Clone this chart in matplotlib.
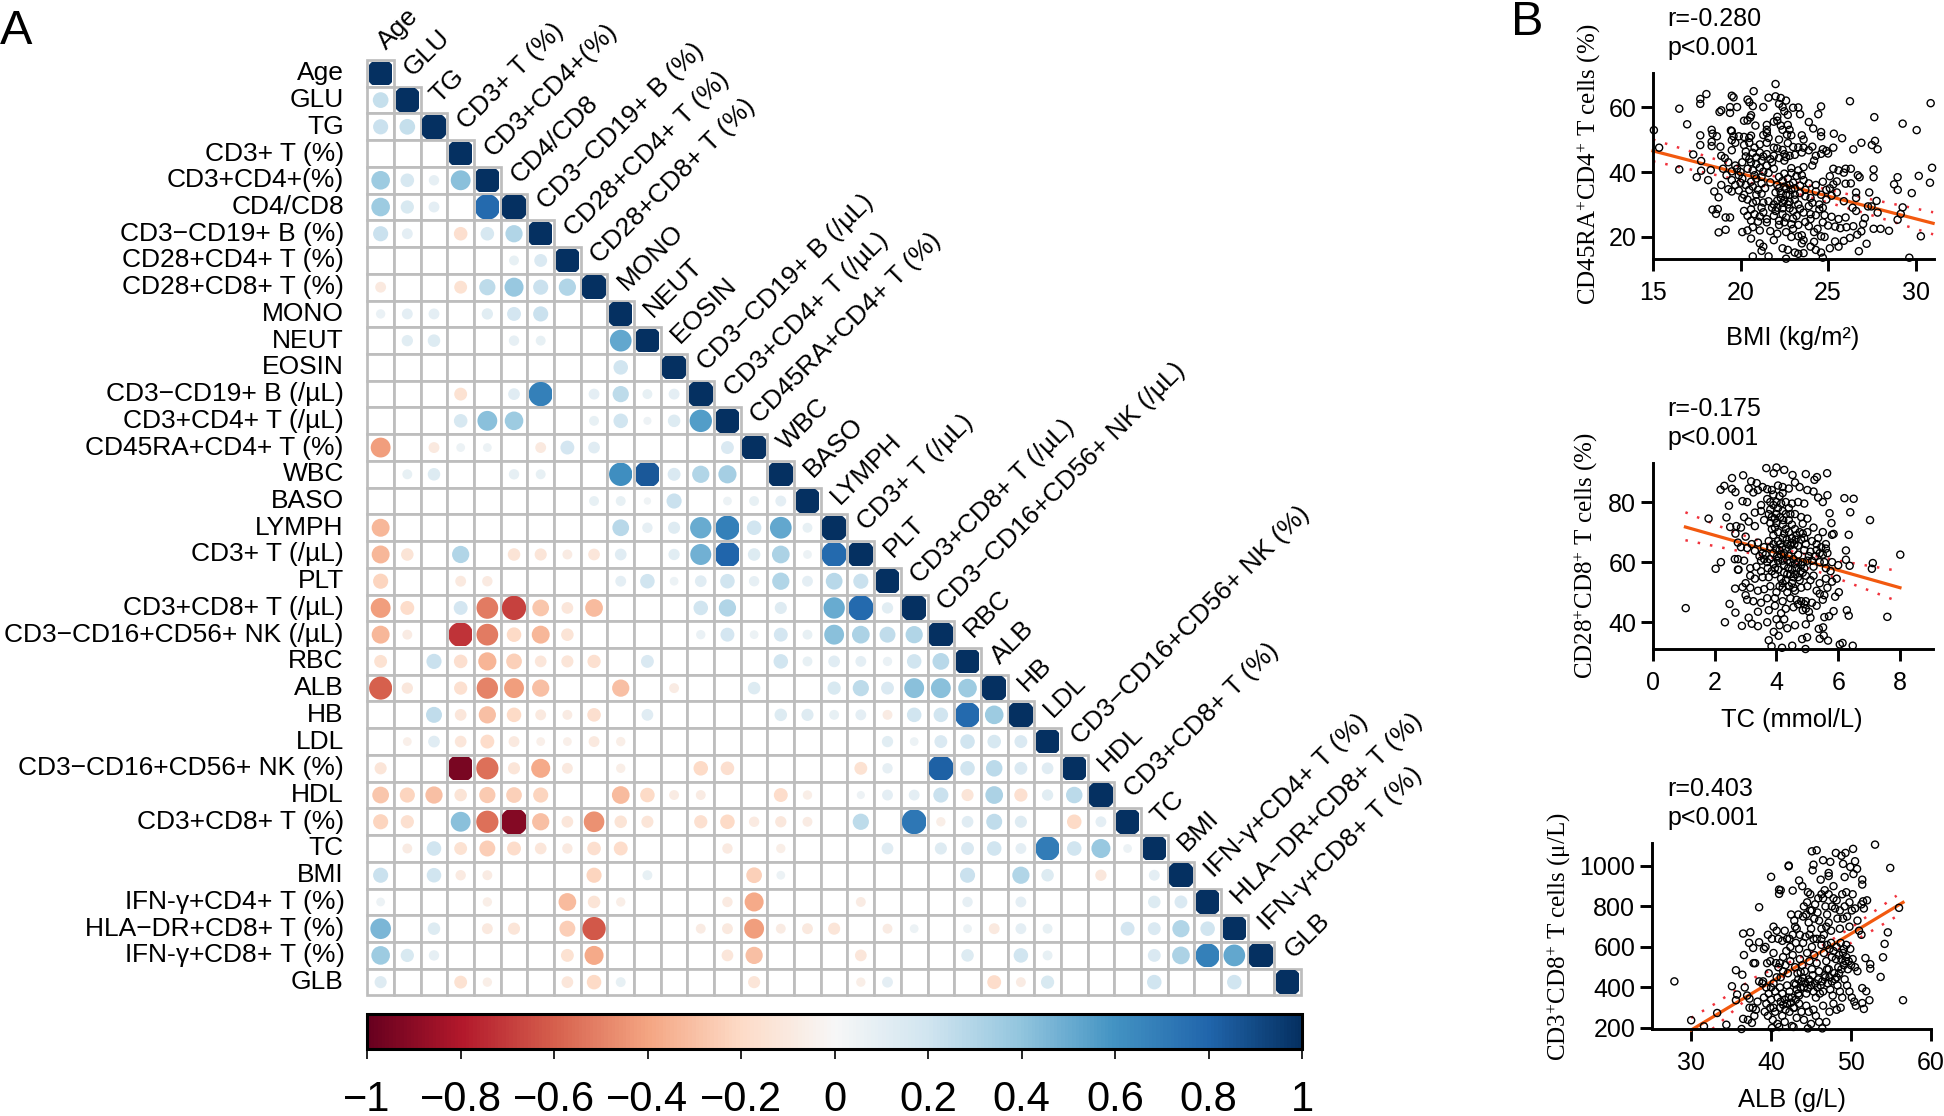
import matplotlib
matplotlib.use('AGG')
import matplotlib.pyplot as plt
from matplotlib.patches import Rectangle, Circle
from matplotlib.cm import ScalarMappable
from matplotlib.colors import Normalize

plt.rcParams['font.family'] = ['Liberation Sans', 'DejaVu Sans']
plt.rcParams['mathtext.fontset'] = 'custom'
plt.rcParams['mathtext.rm'] = 'Liberation Serif'
plt.rcParams['mathtext.default'] = 'regular'

W, H = 1944, 1116

labels = ['Age', 'GLU', 'TG', 'CD3+ T (%)', 'CD3+CD4+(%)', 'CD4/CD8', 'CD3−CD19+ B (%)', 'CD28+CD4+ T (%)',
          'CD28+CD8+ T (%)', 'MONO', 'NEUT', 'EOSIN', 'CD3−CD19+ B (/µL)', 'CD3+CD4+ T (/µL)', 'CD45RA+CD4+ T (%)',
          'WBC', 'BASO', 'LYMPH', 'CD3+ T (/µL)', 'PLT', 'CD3+CD8+ T (/µL)', 'CD3−CD16+CD56+ NK (/µL)', 'RBC', 'ALB',
          'HB', 'LDL', 'CD3−CD16+CD56+ NK (%)', 'HDL', 'CD3+CD8+ T (%)', 'TC', 'BMI', 'IFN-$\\gamma$+CD4+ T (%)',
          'HLA−DR+CD8+ T (%)', 'IFN-$\\gamma$+CD8+ T (%)', 'GLB']

# lower triangle, row by row, diagonal left out
corr_rows = [
    [],
    [.24],
    [.22, .24],
    [0, 0, 0],
    [.36, .17, .09, .42],
    [.36, .16, .1, 0, .78],
    [.22, .1, 0, -.17, .17, .3],
    [0, 0, 0, 0, 0, .08, .15],
    [-.1, 0, 0, -.15, .26, .38, .22, .3],
    [.07, .1, .1, 0, .11, .18, .22, 0, 0],
    [0, .11, .14, 0, 0, .09, .08, 0, 0, .52],
    [0, 0, 0, 0, 0, 0, 0, 0, 0, .2, 0],
    [0, 0, 0, -.15, 0, .12, .68, 0, .1, .26, .08, .1],
    [0, 0, 0, .17, .42, .36, 0, 0, .08, .2, .05, .14, .56],
    [-.42, 0, -.1, .06, .06, 0, -.1, .18, .12, 0, 0, 0, 0, .15],
    [0, .08, .14, 0, 0, .09, .08, 0, 0, .62, .85, .15, .3, .34, 0],
    [0, 0, 0, 0, 0, 0, 0, 0, .08, .08, .04, .22, 0, .06, .08, .1],
    [-.33, 0, 0, 0, 0, 0, 0, 0, 0, .28, .09, .13, .5, .68, .2, .52, .08],
    [-.33, -.14, 0, .3, 0, -.14, -.13, -.08, -.12, .12, 0, .11, .48, .8, .14, .32, .06, .78],
    [-.22, 0, 0, -.1, -.09, 0, 0, 0, 0, .1, .2, .06, .12, .2, .09, .3, .1, .28, .22],
    [-.42, -.18, 0, .18, -.52, -.68, -.28, -.12, -.32, 0, 0, 0, .2, .3, 0, .13, 0, .5, .78, .11],
    [-.33, -.08, 0, -.72, -.52, -.2, -.33, -.14, 0, 0, 0, 0, .07, .18, .06, .18, .08, .42, .32, .25, .3],
    [-.15, 0, .22, -.17, -.34, -.24, -.12, -.13, -.16, 0, .15, 0, 0, 0, 0, .2, .08, .12, .1, .07, .2, .28],
    [-.6, -.11, 0, -.16, -.5, -.42, -.3, 0, 0, -.3, 0, -.08, 0, 0, .14, 0, 0, .16, .26, .15, .42, .42, .36],
    [0, 0, .25, -.12, -.3, -.2, -.1, -.08, -.17, 0, .12, 0, 0, 0, 0, .14, .13, .08, .1, -.08, .2, .2, .78, .36],
    [0, -.06, .12, -.12, -.18, -.1, -.06, -.06, -.1, -.07, 0, 0, 0, 0, 0, 0, 0, 0, 0, .11, .06, .15, .2, .17, .15],
    [-.13, 0, 0, -.95, -.55, -.13, -.38, -.1, 0, -.07, 0, 0, -.2, -.17, 0, 0, 0, 0, -.15, .09, 0, .82, .2, .27, .15, .12],
    [-.28, -.22, -.3, -.14, -.26, -.24, -.22, 0, 0, -.32, -.2, -.08, -.08, 0, 0, -.18, -.07, 0, .05, .1, .1, .22, -.13, .32, -.16, .11, .27],
    [-.22, -.16, 0, .42, -.55, -.92, -.3, -.12, -.46, -.14, -.13, 0, -.16, -.2, -.09, -.11, -.08, 0, .26, 0, .72, -.07, .12, .25, .13, 0, -.2, .1],
    [0, -.08, .2, -.15, -.25, -.18, -.12, -.09, -.17, -.18, 0, 0, 0, -.09, 0, -.07, 0, 0, 0, .12, 0, .13, .15, .2, .1, .7, .2, .38, .06],
    [.22, 0, .2, -.09, -.08, 0, 0, 0, -.22, 0, .08, 0, 0, 0, -.24, .06, 0, 0, 0, 0, 0, 0, .22, 0, .3, .14, 0, -.11, 0, .1],
    [.06, 0, 0, 0, -.07, 0, 0, -.32, -.14, -.07, 0, 0, 0, -.09, -.38, 0, 0, 0, -.08, 0, 0, 0, .09, 0, .1, 0, 0, 0, 0, .14, .15],
    [.46, 0, .14, 0, -.1, -.13, 0, -.25, -.62, 0, 0, 0, -.08, -.1, -.42, -.08, -.1, -.13, 0, -.08, .06, 0, .06, -.1, .1, .08, 0, 0, .18, .15, .3, .2],
    [.36, .16, .09, 0, 0, 0, 0, -.15, -.38, 0, 0, 0, 0, -.12, -.3, 0, 0, 0, -.12, 0, 0, 0, .14, 0, .2, .08, 0, 0, 0, .15, .32, .68, .52],
    [.13, 0, 0, -.15, -.07, 0, 0, -.12, -.2, .08, 0, 0, 0, 0, -.13, 0, 0, 0, -.07, .1, 0, 0, 0, -.18, -.08, .16, 0, 0, 0, .2, 0, 0, .2, 0],
]

cbar_ticks = [-1, -.8, -.6, -.4, -.2, 0, .2, .4, .6, .8, 1]
cbar_labels = ['−1', '−0.8', '−0.6', '−0.4', '−0.2', '0', '0.2', '0.4', '0.6', '0.8', '1']

bmi_pts = [(15.05,52.9),(15.35,47.5),(16.5,40.8),(16.5,59.5),(16.95,54.7),(17.3,45.4),(17.5,38.4),(17.7,61),(17.7,62.5),(18.05,64),
    (17.7,51.3),(17.7,48.3),(17.75,43.4),(17.75,40.4),(18.15,37.5),(18.3,40.6),(18.35,53),(18.4,51.8),(18.65,51),(18.35,49.3),(18.35,48),
    (18.85,47.8),(18.4,28.4),(18.7,28.6),(18.6,27.1),(18.5,34),(18.75,32.2),(18.75,21.4),(19.15,22.2),(19.15,26),(19.4,26),
    (30.86,61.2),(29.26,54.9),(30.06,52.9),(30.94,41.3),(30.18,38.8),(30.82,36.7),(29.78,33.5),(28.97,38.4),(28.77,36.2),(28.98,34.5),
    (29.26,29.1),(29.15,27.1),(28.97,25.3),(30.3,20.2),(29.64,13.6),(28.48,21.9),(27.83,27.5),(27.77,31.1),(28,22.5),(27.6,22.5),
    (27.64,56.9),(27.68,49.6),(27.5,48.3),(27.83,47),(27.6,40.8),(27.6,38.4),(27.35,33.7),(26.25,61.8),(26.9,49),(26.44,47),(25.33,51.8),
    (25.8,50.4),(25.3,47.5),(24.6,60.2),(24.44,57.8),(23.9,55.4),(24.15,53.4),(24.6,52.3),(24.6,51),(27.28,29.4),(27.48,29.4),(26.7,39),
    (26.8,38.4),(26.6,33.7),(26.6,32),(27.2,17.9),(26.76,15.6),(26.9,21.7),(26.67,20.7),(26.25,19.7),(27.1,25.8),(27,24),(26.44,23.3),(26.05,23),
    (22,67.1),(19.5,63.5),(19.6,63),(20.4,62.3),(20.5,61.5),(20.75,64.9),(21.6,62.9),(22,63.3),(22.3,62.8),(22.6,62),(22.2,61),(22.4,60),
    (20.7,60.3),(21.3,60),(19.8,60),(19.4,60),(18.8,58.5),(18.9,59),(19.4,58.2),(20.6,57.5),(20.55,56.8),(20.2,55.8),(20.4,55.9),(22.5,58.7),
    (22.7,57.6),(23,59.8),(23.3,59.9),(23.4,57.8),(22.1,57),(21.9,55.5),(22.1,55.8),(21.5,54.5),(22.3,54.3),(19.45,52.8),(19.5,52.6),
    (20.85,54.3),(21.5,53),(21.5,52),(22.7,54.5),(22.4,53),(22.8,53),(22.65,51.5),(22.9,51.3),(19.6,51),(19.9,51),(20.2,50.8),(20.5,50.5),
    (20.6,51.2),(21.3,51.4),(21.6,50.5),(22.2,50),(23.5,51.3),(23.6,50),(19.5,49.8),(19.7,49),(20.2,48.3),(20.5,49),(20.8,47.5),(21.1,48.5),
    (21.5,49),(21.9,47.5),(22.1,47.3),(22.4,46.8),(22.7,48.9),(23,47.7),(23.3,47.6),(23.6,47.5),(23.9,46.7),(24.1,47.8),(24.7,47),(24.9,46.5),
    (25,45.7),(24.6,45.6),(20.3,46.3),(20.7,45.9),(21.1,46),(21.5,45.5),(21.9,45),(22.5,45.5),(22.8,45),(23.1,45.3),(23.5,46),(24.3,45),
    (19.1,44.3),(18.9,45),(19.5,46.7),(19.3,43),(19.7,42),(20.1,43),(20.5,44),(20.9,42.5),(21.2,43.5),(21.5,42),(21.9,41),(22.5,43.5),
    (22.9,41.2),(23.3,40.5),(23.6,41.5),(24.2,43.5),(24.1,42),(25.3,41),(25.6,40.5),(25.9,39.8),(26,41),(26.3,41),(19,41),(19.5,40.2),(20,40),
    (20.4,41),(20.7,40.5),(21.3,40.1),(21.6,39.7),(19.2,39),(19.5,37.5),(19.7,36),(20.1,38),(20.6,37),(20.9,38),(21.2,36.5),(21.7,36.8),
    (22.1,36),(22.4,37.2),(22.7,38),(23,36.7),(23.2,38.8),(23.5,39),(23.9,36.5),(24.3,36),(24.7,37),(25.1,38.7),(25.3,36.2),(25.5,37.1),
    (26,36.4),(26.3,36.5),(18.9,36),(19.3,34.7),(19.5,34),(19.9,34.3),(20.2,33),(20.5,34.5),(20.9,33),(21.2,33.3),(21.6,31),(22,33.7),(22.3,32),
    (22.6,34.8),(22.8,33),(23.1,31.5),(23.4,33.5),(23.7,32.5),(24,32),(24.3,34),(24.6,33),(24.9,31.5),(25.2,32.7),(25.5,33.7),(25.9,31),
    (20.1,32),(20.7,30.5),(21.3,30.6),(21.9,30),(22.4,30.5),(23.3,30),(20.2,28),(20.4,26.5),(20.8,27),(21.1,26.3),(21.5,25.5),(22,28),(22.4,27),
    (22.8,28.8),(23.2,26.5),(23.6,27.5),(24,25.5),(24.5,28.5),(24.8,26.7),(25.2,26.2),(25.6,25.5),(26,26),(26.4,29),(26.6,28),(22.2,25),(23,25.7),
    (20.1,21.5),(20.4,22),(20.7,23),(21.1,22),(21.5,24.5),(21.7,21.8),(22.2,23.7),(22.5,24.5),(22.6,21.5),(23,22.5),(23.5,20.5),(23.9,23.3),
    (24.2,21.5),(24.6,20.2),(25,23.5),(25.4,23.2),(25.7,22.7),(20.6,19.5),(21.1,18),(21.3,17),(21.2,15.7),(21.9,19),(22.4,16.5),(22.7,16),
    (22.9,20),(23.3,20.2),(23.5,18),(23.6,15),(24,17),(24.3,16),(24.6,15.2),(25.1,16.5),(25.4,18.6),(25.6,17),(25.9,18.8),(23.1,15.2),(23.3,14.8),
    (24.7,13.6),(20.7,14),(21.6,14),(22.6,13.3),
    # dense middle of the cloud
    (20.9,44.5),(21.3,44.8),(21.7,44),(22.2,44.3),(22.6,44.6),(20.6,43),(20.8,39),(21.1,41.3),(22.2,38.5),(22.5,39.5),(22.9,39.7),(22.2,35),(22.5,35.5),
    (22.8,36),(22.3,33.5),(22.6,33),(22.9,34.5),(23.1,35),(22.1,31.2),(22.5,31.3),(22.8,30.8),(23.1,33),(23.4,35.8),(23.7,34.5),(23.6,37.5),(22.1,29),
    (22.4,28.8),(22.7,30),(21.8,29),(21.9,26.5),(22.6,26),(23,28),(23.4,28.7),(23.9,29.5),(24.1,30.5),(24.5,30),(20.3,36),(20.7,35.5),(21,34.5),
    (21.4,35),(20.4,31.5),(20.9,31),(21.2,29),(20.6,28.5),(20.6,25),(21,24.7),(21.3,27.6),(24.9,34.5),(25.1,35),(24.7,29),(24.3,26.7),(24,27),(23.7,24.6),
    (23.3,23.7),(24.4,22.5),(24.7,24.5),(22.9,23.9),(22.1,21),(23.6,19),(24.2,18.5),(24.8,20),(20,36.7),(19.9,39),(19.8,41),(20.3,44.8),(21.8,43),(21.2,38.5)]

tc_pts = [(1.06,44.7),(1.8,74.5),(2.03,57.8),(2.2,60),(2.33,40),(2.19,84.1),(2.31,85.4),(2.38,74.9),(2.46,78.8),(2.5,71.7),(2.48,46.1),(2.56,88),
    (2.56,84.4),(2.67,83.3),(2.67,69.5),(2.77,57.5),(2.66,51.2),(2.67,43.2),(2.88,38.8),(2.92,88.9),(2.9,51.7),(3.18,86.9),(3.36,86.3),
    (8.01,62.5),(7.59,41.8),(7.03,74),(7.12,59.7),(7.09,57.8),(6.5,81.1),(6.2,81.3),(6.39,76.6),(6.34,69.1),(6.25,63.9),(6.25,60.8),(6.37,58.8),
    (6.28,44),(6.34,42.2),(6.47,32.2),(6.05,32.6),(6.14,33.1),(5.64,89.6),(5.72,76.3),(5.78,73),(5.8,69.1),(5.85,69.4),(5.31,88.3),(5.23,87.4),
    (4.95,89.3),(4.52,89),(4.25,90.7),(4,91.5),(3.67,91.3),(3.91,89.6),(3.84,32),(4.18,31.5),(4.51,32.2),(4.94,31.1),(3.75,34),(3.91,36.8),(4.07,35.5),
    (4.99,35),(4.83,34.4),(5.37,37.8),(5.51,38.3),(5.4,34.5),(5.53,35.6),(5.67,33.9),
    (2.9,80.3),(3.05,80),(3.1,84.5),(3.25,83.2),(3.4,84),(3.55,85),(3.7,84.3),(3.85,84),(4.05,85.5),(4.2,85),(4.4,84.5),(4.6,86.5),(4.75,85),(5,84),(5.2,83.5),
    (5.35,81.5),(5.65,82.3),(3.5,79),(3.7,81),(3.9,82.5),(4.1,82),(4.3,80),(4.5,79.5),(4.7,80),(4.9,79.5),(5.5,80),(3.3,76.5),(3.5,77),(3.8,77.5),(4,76),(4.2,77),
    (4.4,78),(4.6,76),(4.8,75),(5,74.5),(2.95,75),(3.1,73.5),(3.3,72),(3.6,74),(3.8,73),(4,73),(4.2,72.5),(4.4,74),(4.6,71),(4.85,72.8),(5,70),(5.2,71.5),
    (2.7,72),(2.85,71.5),(2.75,66.5),(2.85,65),(3,68.5),(3.2,66),(3.4,66.5),(3.6,65),(3.75,67),(3.9,69),(4.05,70),(4.2,68),(4.35,66),(4.5,68),(4.65,69),
    (4.8,67.5),(4.95,66),(5.15,67),(5.35,68),(5.5,70),(5.6,66),(3.05,64.7),(3.3,63.8),(3.65,62.5),(3.9,63),(4.1,64),(4.25,63),(4.4,62),(4.55,64),(4.7,62.5),
    (4.9,64),(5.1,63.5),(5.3,64),(5.5,62.5),(5.65,63),(5.8,60),(6,59),(2.65,61),(2.75,61),(2.95,60.5),(3.15,58),(3.35,58.5),(3.5,57),(3.7,60),(3.9,59.5),
    (4.05,60.5),(4.25,59),(4.45,60),(4.65,58),(4.85,60),(5,60.5),(5.2,58.5),(5.4,60),(5.6,58),(5.75,57),(2.75,57.5),(3.15,55.5),(3.3,54.5),(3.55,55),
    (3.75,55),(3.95,56),(4.15,54.5),(4.35,56),(4.55,55),(4.75,54),(4.95,55.5),(5.1,54),(5.4,53),(5.6,54.5),(5.95,54.5),(5.8,53.5),
    (3,53),(3.15,51.5),(3.4,50.5),(3.6,51),(3.8,52),(4,50),(4.2,51.5),(4.4,52),(4.6,50.5),(4.8,51.5),(5,52),(5.4,49.5),(5.55,49),(5.65,51.5),(6.02,50),(5.9,48.5),
    (3,49),(3.05,47.5),(3.25,47),(3.5,46.5),(3.7,48),(3.95,48),(4.2,47),(4.45,48),(4.7,46),(4.95,47),(5.15,46.5),(5.5,47.5),(3.4,43.5),(3.75,44),(3.95,45.5),
    (4.15,43),(4.3,44.5),(4.55,45),(4.85,44),(5.05,43.5),(5.3,45.5),(5.85,43.7),(3.1,41.5),(3.2,39.5),(3.4,38.7),(3.7,40),(4,41),(4.25,41),(4.35,38),(4.6,39),(4.95,39.3),
    (5.1,41.5),(5.55,41.7),(5.7,42),(4.1,39),
    # dense middle of the cloud
    (3.85,75),(3.95,74.5),(4.05,78),(4.12,75),(4.22,74),(4.3,71),(3.85,71),(3.95,71.5),(4.05,67),(4.12,66),(4.18,65),(4.25,69.5),(4.33,67.5),(4.4,70),(4.45,65.5),
    (3.8,65),(3.9,66),(3.98,64.5),(4.02,62),(4.08,61.5),(4.15,62.5),(4.2,60.5),(4.3,64.5),(4.35,60.5),(4.5,66.5),(4.58,66),(4.62,67.5),(4.7,65.5),(4.75,70),(4.85,69.5),
    (4.9,68),(4.55,61),(4.6,59.5),(4.7,60),(4.78,57),(4.8,59),(4.5,57.5),(4.45,56),(4.38,58),(4.6,56),(4.7,55),(4.85,56.5),(4.9,58),(4.3,54),(4.2,53),(4.1,52),(4.25,56.5),
    (4.35,50),(4.5,53),(4.55,51.5),(4.05,57.5),(3.95,58),(3.85,57),(3.78,61),(3.72,58),(3.6,61),(3.55,63),(3.5,60.5),(3.45,62),(5.05,62),(5.15,60.5),(5.25,62),(5.3,66),(5.45,65),
    (5.4,63),(5.55,60),(5.6,64.5),(5.2,55.5),(5.3,50.5),(4.65,47.5),(4.8,47),(4.9,46),(4.95,44.5),(3.9,79),(4,80),(4.15,79.5),(4.2,83),(3.8,80),(3.75,76),(4.45,76),(4.5,72.5),(4.3,76)]

alb_pts = [(27.9,430),(30,238),(31.6,208),(33.25,274),(34.4,216),(36.3,195),(56.5,337),(56,793),(54.9,990),(53,1105),(54.6,672),(54.2,615),(54,549),(53.7,452),
    (40,946),(38.5,796),(36.5,666),(37.4,672),(37.25,620),(37.75,595),(38.5,623),(35.1,406),(35.6,485),(36.4,463),(35.75,365),(35.6,337),(42.2,998),(42.2,1002),
    (41,883),(41.2,880),(41,862),(42.7,878),(43.5,928),(43.9,900),(44.6,870),(44.9,860),(45.1,1072),(45.7,1077),(45.3,1006),(45.2,978),(46.5,1028),(47.4,1020),
    (48.1,1064),(49.3,1064),(48.8,1050),(50.25,1084),(50.5,1023),(50.75,985),(49,1010),(49.9,995),(50.3,960),(49.2,945),(47.2,965),(47.2,950),(46.2,932),
    (47.8,900),(51.4,932),(51.4,908),(51.5,825),(51.3,810),(51.6,790),(52,830),(51.8,545),(52.4,493),(52.4,515),(51.4,397),(51.9,381),(52.3,337),(51.4,323),(51.6,294),
    (36.6,560),(36.7,400),(37,360),(37.3,345),(36.5,245),(37.1,240),(37.6,225),(37.9,260),(38.1,290),(38.3,330),(37.3,300),(37.7,300),(37.8,520),(38,520),(38.5,430),(38.9,420),
    (39.1,590),(39.3,600),(39.6,660),(40.1,640),(40.3,700),(40.7,680),(40.9,640),(41.4,630),(41.7,680),(42,640),(42.4,600),(42.5,760),(42.9,730),(43.2,690),(43.6,660),(44,620),
    (44.1,800),(44.4,760),(44.7,720),(45,690),(45.3,640),(45.5,810),(45.8,770),(46,730),(46.3,690),(46.5,840),(46.8,800),(47,760),(47.2,720),(47.5,680),(47.8,840),(48,790),
    (48.3,740),(48.6,690),(48.9,860),(49.2,800),(49.5,750),(49.8,700),(50.2,860),(50.5,790),(50.8,730),(51,680),(51.3,660),(39.5,520),(39.9,530),(40.3,570),(40.6,520),
    (40.9,500),(41.2,450),(41.5,550),(41.8,510),(42.1,470),(42.4,530),(42.7,560),(43,500),(43.3,470),(43.6,540),(43.9,510),(44.2,480),(44.5,570),(44.8,530),(45.1,490),(45.4,560),
    (45.7,520),(46,480),(46.3,610),(46.6,570),(46.9,530),(47.2,490),(47.5,620),(47.8,580),(48.1,540),(48.4,500),(48.7,620),(49,570),(49.3,530),(49.6,490),(49.9,590),(50.2,540),
    (50.5,500),(50.8,480),(39,430),(39.4,400),(39.7,370),(40,340),(40.3,420),(40.5,380),(40.8,350),(41.1,400),(41.4,370),(41.7,340),(42,410),(42.3,380),(42.6,350),(42.9,420),
    (43.2,390),(43.5,360),(43.8,430),(44.1,400),(44.4,370),(44.7,440),(45,410),(45.3,380),(45.6,350),(45.9,440),(46.2,410),(46.5,380),(46.8,450),(47.1,420),(47.4,390),(47.7,360),
    (48,440),(48.3,410),(48.6,380),(48.9,350),(49.2,440),(49.5,410),(49.8,380),(50.1,350),(50.4,330),(50.6,310),(39.2,280),(39.6,260),(39.9,300),(40.2,240),(40.5,280),(40.8,220),
    (41.1,300),(41.4,260),(41.7,230),(42,320),(42.3,280),(42.6,210),(42.9,300),(43.2,250),(43.5,320),(43.8,280),(44.1,240),(44.4,310),(44.7,280),(45,220),(45.3,290),(45.6,260),
    (46,230),(46.5,310),(46.9,230),(47.3,280),(47.8,320),(48.2,290),(48.7,300),(40.1,200),(41,205),(42.8,205),(44.6,198),(46.4,198),
    # dense middle of the cloud
    (41.2,330),(41.5,315),(41.8,290),(42.2,350),(42.5,325),(42.8,300),(43.1,340),(43.4,370),(43.7,400),(43.1,415),(43.4,440),(43.7,475),(44,445),(44.3,420),(44.6,395),
    (44.9,430),(45.2,460),(45.5,420),(45.8,400),(46.1,370),(46.4,430),(46.7,460),(47,490),(47.3,450),(47.6,430),(47.9,470),(48.2,450),(48.5,470),(48.8,490),(49.1,510),(49.4,550),
    (49.7,530),(50,510),(48.2,600),(48.5,560),(48.8,540),(49.1,590),(49.4,610),(47,610),(47.3,590),(47.6,550),(46.3,640),(46.6,660),(46.9,700),(45.7,640),(45.1,600),(44.3,650),
    (44.8,660),(43.5,590),(43.1,620),(42.7,660),(42.3,640),(41.9,580),(41.5,480),(41.1,520),(40.7,450),(40.3,300),(40,400),(39.7,470),(39.4,320),(39.1,350),(44.5,820),(45.1,780),
    (45.9,840),(46.3,860),(46.7,880),(47.2,860),(47.6,800),(48.2,830),(48.6,780),(49,740),(49.4,870),(49.8,820),(50.1,780),(45.4,740),(44.9,780),(44,750),(43.4,760),(43,700)]

bmi_line_x = [15, 31]
bmi_line_y = [46.5, 24.2]
bmi_ci_x = [15, 19, 23, 27, 31]
bmi_ci_up = [50, 43.2, 37, 32.1, 27.6]
bmi_ci_lo = [43.3, 38.6, 33.7, 27.5, 20.8]

tc_line_x = [1.05, 8]
tc_line_y = [71.7, 51.5]
tc_ci_x = [1.05, 2.5, 4.3, 6, 8]
tc_ci_up = [76.6, 70.5, 64, 60.5, 57]
tc_ci_lo = [67.3, 64.3, 60.6, 54.5, 46.7]

alb_line_x = [30, 56.5]
alb_line_y = [190, 820]
alb_ci_x = [30, 33, 38, 45, 50, 55.7]
alb_ci_up = [250, 320, 450, 572, 695, 853]
alb_ci_lo = [130, 205, 380, 522, 620, 751]


def px_axes(fig, left, top, right, bottom):
    return fig.add_axes([left / W, 1 - bottom / H, (right - left) / W, (bottom - top) / H])


def px_text(fig, x, y, s, **kwargs):
    return fig.text(x / W, 1 - y / H, s, **kwargs)


def draw_scatter(fig, box, pts, line_x, line_y, ci_x, ci_up, ci_lo, xlim, ylim, xticks, yticks):
    ax = px_axes(fig, *box)
    ax.plot(ci_x, ci_up, color='#f0323c', lw=1.8, ls=(0, (1, 4)), zorder=1, clip_on=False)
    ax.plot(ci_x, ci_lo, color='#f0323c', lw=1.8, ls=(0, (1, 4)), zorder=1)
    ax.plot(line_x, line_y, color='#f2590f', lw=2.3, zorder=2, clip_on=False)
    ax.scatter([p[0] for p in pts], [p[1] for p in pts], s=26, facecolors='none', edgecolors='black',
               linewidths=1.0, zorder=3, clip_on=False)
    ax.set_xlim(*xlim)
    ax.set_ylim(*ylim)
    ax.set_xticks(xticks)
    ax.set_yticks(yticks)
    for side in ['top', 'right']:
        ax.spines[side].set_visible(False)
    for side in ['left', 'bottom']:
        ax.spines[side].set_linewidth(2.1)
    ax.tick_params(axis='both', length=8.5, width=2.1, labelsize=18)
    ax.tick_params(axis='x', pad=7)
    ax.tick_params(axis='y', pad=3.5)
    ax.patch.set_alpha(0)
    return ax


fig = plt.figure(figsize=(W / 100, H / 100), dpi=100)
px_text(fig, 0, 44, 'A', fontsize=35, ha='left', va='baseline')
px_text(fig, 1511, 35, 'B', fontsize=35, ha='left', va='baseline')

# correlation matrix
ax = px_axes(fig, 367.3, 60, 1301, 995.5)
n = len(labels)
ax.set_xlim(0, n)
ax.set_ylim(n, 0)
ax.axis('off')
cmap = plt.get_cmap('RdBu')
norm = Normalize(-1, 1)
for i in range(n):
    row = corr_rows[i] + [1]
    for j, r in enumerate(row):
        ax.add_patch(Rectangle((j, i), 1, 1, fc='white', ec='#bdbdbd', lw=1.95, zorder=1, clip_on=False))
for i in range(n):
    row = corr_rows[i] + [1]
    for j, r in enumerate(row):
        if r == 0:
            continue
        c = Circle((j + .5, i + .5), .535 * abs(r) ** .42, fc=cmap(norm(r)), ec='none', zorder=2)
        ax.add_patch(c)
        c.set_clip_path(Rectangle((j + .06, i + .06), .88, .88, transform=ax.transData))
    ax.text(-.88, i + .5, labels[i], fontsize=19, ha='right', va='center', clip_on=False)
    ax.text(i + .53, i - .55, labels[i], fontsize=19, rotation=45, rotation_mode='anchor',
            ha='left', va='center', clip_on=False)

# colorbar
cax = px_axes(fig, 367, 1014, 1302, 1049)
cb = fig.colorbar(ScalarMappable(norm=norm, cmap=cmap), cax=cax, orientation='horizontal', ticks=cbar_ticks)
cb.set_ticklabels(cbar_labels)
cb.outline.set_linewidth(2.2)
cb.outline.set_edgecolor('black')
cb.ax.tick_params(length=7, width=1.2, labelsize=30, pad=15)

# panel B
draw_scatter(fig, (1653, 73, 1934, 259), bmi_pts, bmi_line_x, bmi_line_y, bmi_ci_x, bmi_ci_up, bmi_ci_lo,
             (15, 31.05), (13.2, 70.5), [15, 20, 25, 30], [20, 40, 60])
draw_scatter(fig, (1653, 463, 1933, 649), tc_pts, tc_line_x, tc_line_y, tc_ci_x, tc_ci_up, tc_ci_lo,
             (0, 9.07), (31.1, 93), [0, 2, 4, 6, 8], [40, 60, 80])
draw_scatter(fig, (1652, 843, 1931, 1029), alb_pts, alb_line_x, alb_line_y, alb_ci_x, alb_ci_up, alb_ci_lo,
             (25.1, 60), (195, 1113), [30, 40, 50, 60], [200, 400, 600, 800, 1000])

for base, r_text in [(26, 'r=-0.280'), (416, 'r=-0.175'), (796, 'r=0.403')]:
    px_text(fig, 1667, base, r_text, fontsize=18, ha='left', va='baseline')
    px_text(fig, 1667, base + 29, 'p<0.001', fontsize=18, ha='left', va='baseline')

px_text(fig, 1793, 345, 'BMI (kg/m²)', fontsize=18.4, ha='center', va='baseline')
px_text(fig, 1792, 727, 'TC (mmol/L)', fontsize=18.4, ha='center', va='baseline')
px_text(fig, 1792, 1107, 'ALB (g/L)', fontsize=18.4, ha='center', va='baseline')

serif = ['Liberation Serif', 'DejaVu Serif']
px_text(fig, 1589, 164, 'CD45RA$^{+}$CD4$^{+}$ T cells (%)', fontsize=18, family=serif, rotation=90, ha='center', va='center')
px_text(fig, 1586, 556, 'CD28$^{+}$CD8$^{+}$ T cells (%)', fontsize=18, family=serif, rotation=90, ha='center', va='center')
px_text(fig, 1559, 937, 'CD3$^{+}$CD8$^{+}$ T cells (μ/L)', fontsize=18, family=serif, rotation=90, ha='center', va='center')

fig.savefig('out.png', dpi=100)
